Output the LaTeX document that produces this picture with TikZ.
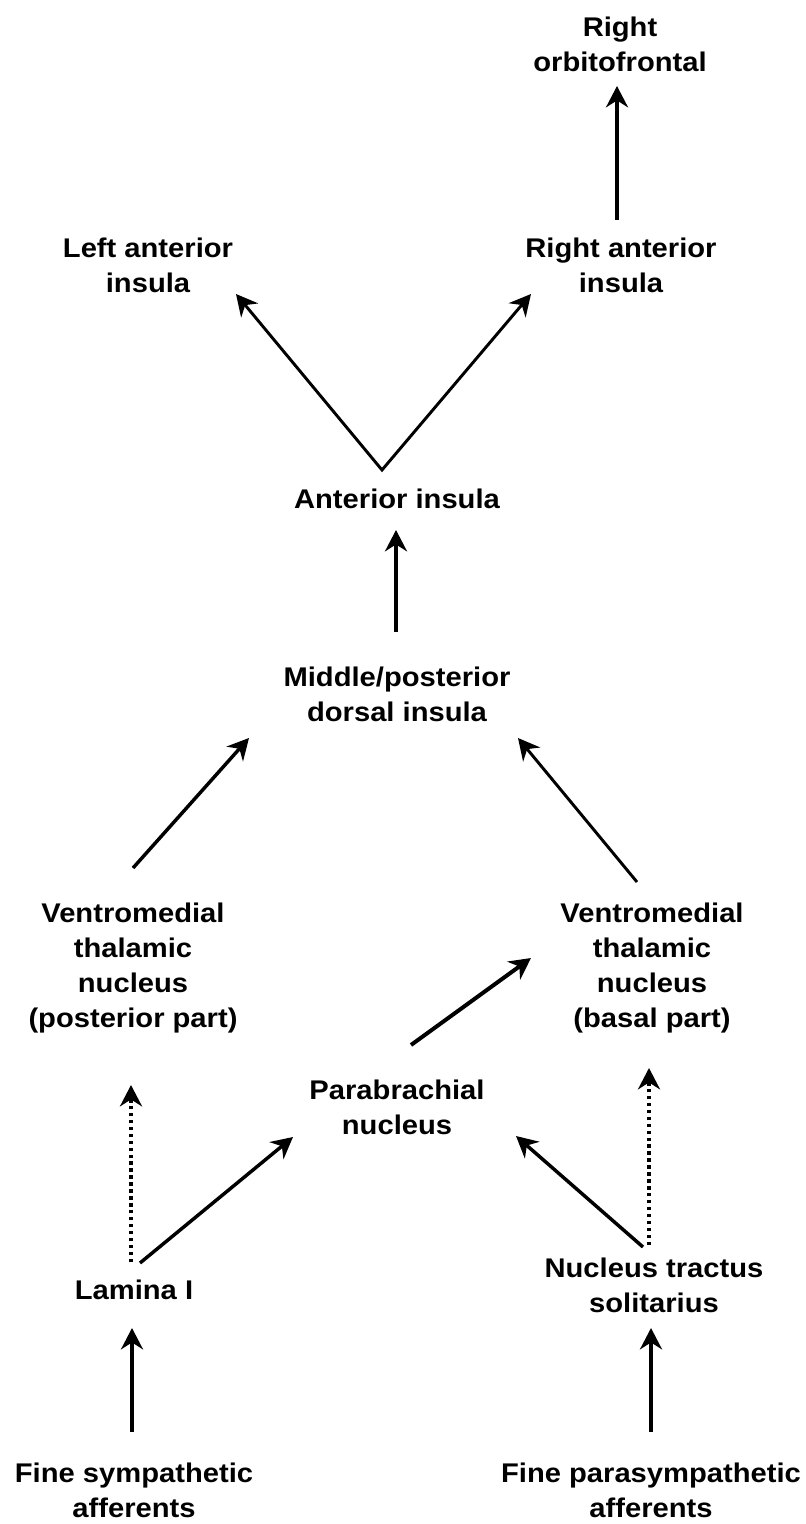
\documentclass[tikz,border=0pt]{standalone}
\usepackage{fontspec}
\setmainfont{Liberation Sans}[FakeStretch=1.08]
\usetikzlibrary{arrows.meta}
\begin{document}
\begin{tikzpicture}[x=0.75pt,y=-0.75pt,
  lbl/.style={anchor=north,inner sep=0pt,align=center,
    font=\fontsize{20.25pt}{26.25pt}\selectfont\bfseries},
  arr/.style={-{Stealth[length=16pt,width=16.5pt]},line width=3pt},
  arrmid/.style={arr,line width=2.6pt},
  arrthin/.style={arr,line width=2.2pt},
  arrdot/.style={-{Stealth[length=16pt,width=16.5pt]},line width=2.8pt,
    dash pattern=on 2.6pt off 2.6pt}]
\useasboundingbox (0,0) rectangle (806,1524);
% nodes (x = centre, y = top of first line)
\node[lbl] (ro)   at (620,17)   {Right\\orbitofrontal};
\node[lbl] (rai)  at (621,238)  {Right anterior\\insula};
\node[lbl] (lai)  at (148,238)  {Left anterior\\insula};
\node[lbl] (ai)   at (397,489)  {Anterior insula};
\node[lbl] (mpdi) at (397,667)  {Middle/posterior\\dorsal insula};
\node[lbl] (vmp)  at (133,903)  {Ventromedial\\thalamic\\nucleus\\(posterior part)};
\node[lbl] (vmb)  at (652,903)  {Ventromedial\\thalamic\\nucleus\\(basal part)};
\node[lbl] (pb)   at (397,1080) {Parabrachial\\nucleus};
\node[lbl] (lam)  at (134,1280) {Lamina I};
\node[lbl] (nts)  at (654,1258) {Nucleus tractus\\solitarius};
\node[lbl] (fs)   at (134,1463) {Fine sympathetic\\afferents};
\node[lbl] (fp)   at (651,1463) {Fine parasympathetic\\afferents};
% connector end points
\coordinate (raiTop)  at (617,220);
\coordinate (roBot)   at (617,86);
\coordinate (aiTop)   at (382,470);
\coordinate (laiBot)  at (236,294);
\coordinate (raiBot)  at (531,294);
\coordinate (mpdiTop) at (396,632);
\coordinate (aiBot)   at (396,530);
\coordinate (vmpTop)  at (133,868);
\coordinate (mpdiL)   at (249,738);
\coordinate (vmbTop)  at (637,882);
\coordinate (mpdiR)   at (518,738);
\coordinate (pbTop)   at (411,1045);
\coordinate (vmbL)    at (531,958);
\coordinate (lamTopA) at (131,1262);
\coordinate (vmpBot)  at (131,1085);
\coordinate (lamTopB) at (140,1263);
\coordinate (pbL)     at (293,1137);
\coordinate (ntsTopA) at (643,1247);
\coordinate (pbR)     at (516,1136);
\coordinate (ntsTopB) at (649,1245);
\coordinate (vmbBot)  at (649,1068);
\coordinate (fsTop)   at (132,1432);
\coordinate (lamBot)  at (132,1328);
\coordinate (fpTop)   at (651,1432);
\coordinate (ntsBot)  at (651,1328);
% connectors
\draw[arr] (raiTop) -- (roBot);
\draw[arrthin,{Stealth[length=16pt,width=16.5pt]}-{Stealth[length=16pt,width=16.5pt]}] (laiBot) -- (aiTop) -- (raiBot);
\draw[arr] (mpdiTop) -- (aiBot);
\draw[arrmid] (vmpTop) -- (mpdiL);
\draw[arrthin] (vmbTop) -- (mpdiR);
\draw[arr] (pbTop) -- (vmbL);
\draw[arrdot] (lamTopA) -- (vmpBot);
\draw[arrmid] (lamTopB) -- (pbL);
\draw[arrmid] (ntsTopA) -- (pbR);
\draw[arrdot] (ntsTopB) -- (vmbBot);
\draw[arr] (fsTop) -- (lamBot);
\draw[arr] (fpTop) -- (ntsBot);
\end{tikzpicture}
\end{document}
